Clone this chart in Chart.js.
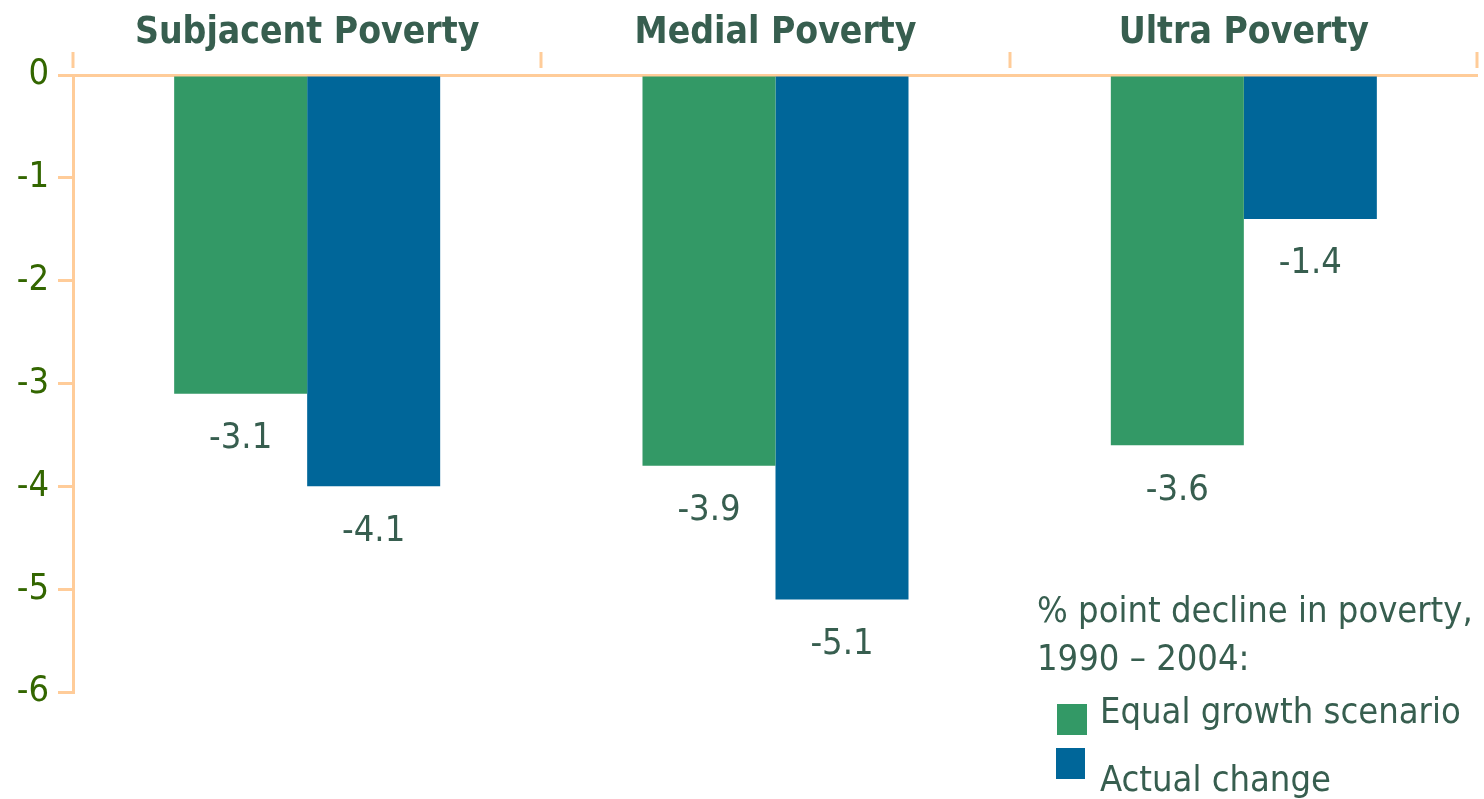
<!DOCTYPE html>
<html>
<head>
<meta charset="utf-8">
<script src="https://cdn.jsdelivr.net/npm/chart.js@4.4.1/dist/chart.umd.min.js"></script>
<style>
    html, body { margin: 0; padding: 0; background: #fff; }
    #wrap { position: relative; width: 1484px; height: 799px; }
</style>
</head>
<body>
<div id="wrap"><canvas id="myChart" width="1484" height="799"></canvas></div>
<script>
// data (bar heights as drawn, labels as printed on the chart)
var categories = ['Subjacent Poverty', 'Medial Poverty', 'Ultra Poverty'];
var equalGrowth = [-3.1, -3.8, -3.6];
var actualChange = [-4.0, -5.1, -1.4];
var equalGrowthLabels = ['-3.1', '-3.9', '-3.6'];
var actualChangeLabels = ['-4.1', '-5.1', '-1.4'];
var seriesNames = ['Equal growth scenario', 'Actual change'];
var legendTitle = ['% point decline in poverty,', '1990 \u2013 2004:'];
var yTicks = [0, -1, -2, -3, -4, -5, -6];

var GREEN = '#339966';
var BLUE = '#006699';
var PEACH = '#ffcc99';
var TEXT = '#375e4f';
var FONT = "'DejaVu Sans Condensed', 'DejaVu Sans', Verdana, sans-serif";

// value labels under each bar
var barLabels = {
    id: 'barLabels',
    afterDatasetsDraw: function (chart) {
        var ctx = chart.ctx;
        ctx.save();
        ctx.font = '36px ' + FONT;
        ctx.fillStyle = TEXT;
        ctx.textAlign = 'center';
        ctx.textBaseline = 'middle';
        chart.data.datasets.forEach(function (ds, i) {
            chart.getDatasetMeta(i).data.forEach(function (bar, j) {
                ctx.fillText(ds.valueLabels[j], bar.x, bar.y + 45);
            });
        });
        ctx.restore();
    }
};

// tick marks between categories above the zero line
var topTicks = {
    id: 'topTicks',
    afterDraw: function (chart) {
        var x = chart.scales.x;
        var ctx = chart.ctx;
        var top = chart.chartArea.top;
        var step = (x.right - x.left) / categories.length;
        ctx.save();
        ctx.strokeStyle = PEACH;
        ctx.lineWidth = 3;
        for (var i = 0; i <= categories.length; i++) {
            var px = Math.round(x.left + step * i) - (i == categories.length ? 1 : 0);
            ctx.beginPath();
            ctx.moveTo(px, top - 23);
            ctx.lineTo(px, top - 7);
            ctx.stroke();
        }
        ctx.restore();
    }
};

// legend box bottom right
var sideLegend = {
    id: 'sideLegend',
    afterDraw: function (chart) {
        var ctx = chart.ctx;
        ctx.save();
        ctx.font = '36px ' + FONT;
        ctx.fillStyle = TEXT;
        ctx.textAlign = 'left';
        ctx.textBaseline = 'middle';
        ctx.fillText(legendTitle[0], 1037, 613);
        ctx.fillText(legendTitle[1], 1037, 661);

        var ds = chart.data.datasets;
        ctx.fillStyle = ds[0].backgroundColor;
        ctx.fillRect(1057, 704, 30, 31);
        ctx.fillStyle = ds[1].backgroundColor;
        ctx.fillRect(1056, 748, 29, 31);

        ctx.fillStyle = TEXT;
        ctx.fillText(ds[0].label, 1100, 714);
        ctx.fillText(ds[1].label, 1100, 782);
        ctx.restore();
    }
};

var ctx = document.getElementById('myChart').getContext('2d');
var myChart = new Chart(ctx, {
    type: 'bar',
    data: {
        labels: categories,
        datasets: [{
            label: seriesNames[0],
            data: equalGrowth,
            valueLabels: equalGrowthLabels,
            backgroundColor: GREEN,
            borderWidth: 0
        }, {
            label: seriesNames[1],
            data: actualChange,
            valueLabels: actualChangeLabels,
            backgroundColor: BLUE,
            borderWidth: 0
        }]
    },
    options: {
        responsive: false,
        animation: false,
        devicePixelRatio: 1,
        categoryPercentage: 0.568,
        barPercentage: 1,
        layout: { padding: { left: 0, right: 6, top: 0, bottom: 107 } },
        plugins: {
            legend: { display: false },
            tooltip: { enabled: false }
        },
        scales: {
            x: {
                position: 'top',
                grid: { display: false, drawTicks: false },
                border: { display: false },
                ticks: {
                    color: TEXT,
                    padding: 19,
                    font: { family: FONT, size: 37, weight: 'bold' }
                },
                afterFit: function (scale) { scale.height = 75; }
            },
            y: {
                min: -6,
                max: 0,
                afterBuildTicks: function (scale) {
                    scale.ticks = yTicks.map(function (v) { return { value: v }; });
                },
                grid: {
                    drawOnChartArea: true,
                    color: function (c) { return c.tick && c.tick.value === 0 ? PEACH : 'rgba(0,0,0,0)'; },
                    tickColor: PEACH,
                    lineWidth: 3,
                    tickLength: 15
                },
                border: { display: true, color: PEACH, width: 3 },
                ticks: {
                    color: '#336600',
                    padding: 9,
                    font: { family: FONT, size: 36 },
                    callback: function (v) { return v; }
                },
                afterFit: function (scale) { scale.width = 73; }
            }
        }
    },
    plugins: [barLabels, topTicks, sideLegend]
});
</script>
</body>
</html>
